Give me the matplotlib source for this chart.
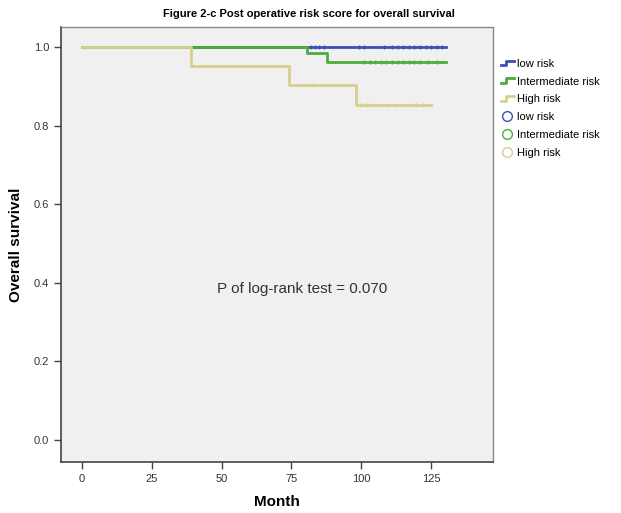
import matplotlib
matplotlib.use('Agg')
import matplotlib.pyplot as plt
from matplotlib.lines import Line2D
from matplotlib.legend_handler import HandlerLine2D

plt.rcParams['font.family'] = ['Liberation Sans', 'DejaVu Sans']

# Step curves (month, survival)
low_t = [0, 130.4]
low_s = [1.0, 1.0]
low_cens = [82, 83.5, 85, 86.5, 99, 101, 108, 111, 113, 115, 117, 119, 121, 123, 125, 127, 129]

mid_t = [0, 80.6, 87.7, 130.4]
mid_s = [1.0, 0.986, 0.963, 0.963]
mid_cens = [101, 103, 105, 107, 109, 111, 113, 115, 117, 119, 121, 124, 127]

high_t = [0, 39, 74, 98, 125]
high_s = [1.0, 0.951, 0.904, 0.853, 0.853]
high_cens = [82.7, 100, 102, 104.5, 107, 109.5, 112, 114.5, 117, 119.5, 122]

labels = ['low risk', 'Intermediate risk', 'High risk']
colors = ['#3d4fb3', '#4cad3c', '#d6d08e']


def surv_at(t, times, surv):
    s = surv[0]
    for ti, si in zip(times, surv):
        if t >= ti:
            s = si
    return s


# legend key drawn as a small step, like the SPSS legend
class StepHandler(HandlerLine2D):
    def create_artists(self, legend, orig_handle, xdescent, ydescent,
                       width, height, fontsize, trans):
        x0 = -xdescent
        y0 = -ydescent
        xs = [x0, x0 + width * 0.4, x0 + width * 0.4, x0 + width]
        ys = [y0 + height * 0.2, y0 + height * 0.2, y0 + height * 0.8, y0 + height * 0.8]
        line = Line2D(xs, ys, color=orig_handle.get_color(),
                      linewidth=orig_handle.get_linewidth())
        line.set_transform(trans)
        return [line]


fig = plt.figure(figsize=(6.21, 5.13), dpi=100)
ax = fig.add_axes([0.0982, 0.0994, 0.696, 0.848])
ax.set_facecolor('#f0f0f0')

curves = [(low_t, low_s, low_cens), (mid_t, mid_s, mid_cens), (high_t, high_s, high_cens)]
for (t, s, c), col in zip(curves, colors):
    ax.step(t, s, where='post', color=col, linewidth=2)
    ax.plot(c, [surv_at(x, t, s) for x in c], linestyle='none', marker='|',
            markersize=3.5, markeredgewidth=1, color=col)

ax.set_xlim(-7.5, 147.2)
ax.set_ylim(-0.056, 1.051)
ax.set_xticks([0, 25, 50, 75, 100, 125])
ax.set_yticks([0.0, 0.2, 0.4, 0.6, 0.8, 1.0])
ax.set_yticklabels(['0.0', '0.2', '0.4', '0.6', '0.8', '1.0'])
ax.tick_params(labelsize=8, labelcolor='#333333', length=5, width=1, color='#444444')

for side in ['left', 'bottom']:
    ax.spines[side].set_color('#444444')
    ax.spines[side].set_linewidth(1.2)
for side in ['top', 'right']:
    ax.spines[side].set_color('#888888')
    ax.spines[side].set_linewidth(1)

ax.set_xlabel('Month', fontsize=11, fontweight='bold', labelpad=8)
ax.set_ylabel('Overall survival', fontsize=11, fontweight='bold', labelpad=8)
fig.suptitle('Figure 2-c Post operative risk score for overall survival',
             fontsize=8, fontweight='bold', y=0.982, x=0.497)

ax.text(78.8, 0.385, 'P of log-rank test = 0.070', fontsize=11, color='#333333',
        ha='center', va='center')

handles = [Line2D([], [], color=col, linewidth=2) for col in colors]
handles += [Line2D([], [], color=col, marker='o', linestyle='none',
                   markerfacecolor='none', markersize=7) for col in colors]
handler_map = {h: StepHandler() for h in handles[:3]}
fig.legend(handles, labels + labels, loc='upper left', bbox_to_anchor=(0.79, 0.905),
           frameon=False, fontsize=8, handlelength=1.2, handletextpad=0.3,
           labelspacing=0.7, handler_map=handler_map)

fig.savefig('out.png', dpi=100)
